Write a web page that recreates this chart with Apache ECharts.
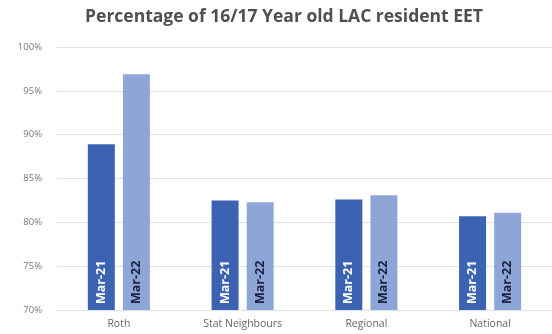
<!DOCTYPE html>
<html>
<head>
<meta charset="utf-8">
<script src="https://cdn.jsdelivr.net/npm/echarts@6/dist/echarts.min.js"></script>
<style>
  html, body { margin: 0; padding: 0; background: #ffffff; }
  #chart { width: 552px; height: 334px; }
</style>
</head>
<body>
<div id="chart"></div>
<script>
// Share of 16/17 year old looked-after children (resident) in education, employment or training
const categories = ['Roth', 'Stat Neighbours', 'Regional', 'National'];
const seriesNames = ['Mar-21', 'Mar-22'];
const mar21 = [88.9, 82.5, 82.6, 80.7];
const mar22 = [96.9, 82.3, 83.1, 81.1];

const chart = echarts.init(document.getElementById('chart'));

function barLabel(name, color) {
  return {
    show: true,
    position: 'insideBottom',
    distance: 6,
    rotate: 90,
    align: 'left',
    verticalAlign: 'middle',
    formatter: name,
    color: color,
    fontFamily: 'Open Sans',
    fontWeight: 'bold',
    fontSize: 12.5
  };
}

chart.setOption({
  animation: false,
  backgroundColor: '#ffffff',
  title: {
    text: 'Percentage of 16/17 Year old LAC resident EET',
    left: 279,
    textAlign: 'center',
    top: 3,
    textStyle: {
      fontFamily: 'Open Sans',
      fontWeight: 'bold',
      fontSize: 17.5,
      color: '#4f4f4f'
    }
  },
  grid: { left: 57, right: -1, top: 47, bottom: 24, containLabel: false },
  xAxis: {
    type: 'category',
    data: categories,
    axisLine: { show: false },
    axisTick: { show: false },
    axisLabel: {
      color: '#666666',
      fontFamily: 'Open Sans',
      fontSize: 10.5,
      margin: 9
    }
  },
  yAxis: {
    type: 'value',
    min: 70,
    max: 100,
    interval: 5,
    axisLine: { show: false },
    axisTick: { show: false },
    axisLabel: {
      formatter: '{value}%',
      color: '#777777',
      fontFamily: 'Open Sans',
      fontSize: 9.5,
      margin: 15
    },
    splitLine: { lineStyle: { color: '#e2e2e2', width: 1 } }
  },
  series: [
    {
      name: seriesNames[0],
      type: 'bar',
      data: mar21,
      barWidth: 27,
      barGap: '30%',
      itemStyle: { color: '#3b63b1' },
      label: barLabel(seriesNames[0], '#ffffff')
    },
    {
      name: seriesNames[1],
      type: 'bar',
      data: mar22,
      barWidth: 27,
      barGap: '30%',
      itemStyle: { color: '#8ea6d7' },
      label: barLabel(seriesNames[1], '#1a2340')
    }
  ]
});
</script>
</body>
</html>
